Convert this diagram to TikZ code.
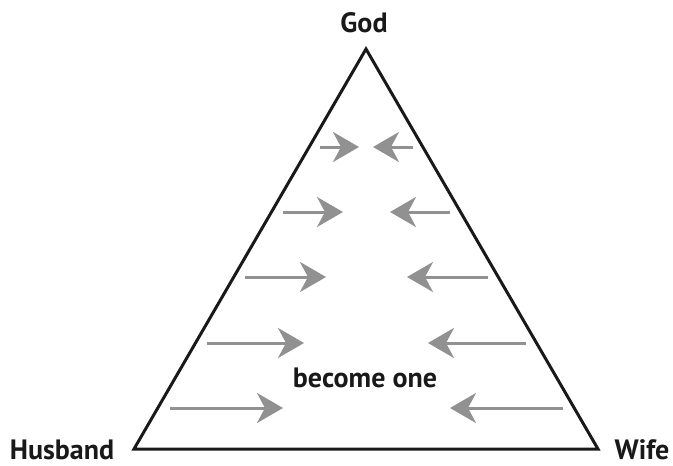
\documentclass[tikz,border=0pt]{standalone}
\usepackage{fontspec}
\setmainfont{PT Sans}
\usetikzlibrary{arrows.meta}

\tikzset{
  label text/.style={font=\fontsize{28}{32}\selectfont\bfseries, text=black!90, anchor=base, inner sep=0pt},
  pull/.style={-{Stealth[length=26pt, width=30pt, inset=8pt]}, line width=3pt, draw=black!43, fill=black!43}
}

\begin{document}
\begin{tikzpicture}[x=1pt, y=-1pt, line join=miter]
  \useasboundingbox (0,0) rectangle (673,466);

  % Triangle corners
  \coordinate (top) at (366,49);
  \coordinate (left) at (134,449);
  \coordinate (right) at (598,449);
  \draw[line width=3pt, black!90] (top) -- (left) -- (right) -- cycle;

  % Labels
  \node[label text] (god) at (364,32) {God};
  \node[label text] (husband) at (62,459) {Husband};
  \node[label text] (wife) at (642,459) {Wife};
  \node[label text] (one) at (365,387) {become one};

  % Arrows drawing the two together
  \foreach \i/\y/\la/\lb/\ra/\rb in {1/147/320/359/413/373, 2/212/283/343/450/390,
      3/277/245/326/488/407, 4/343/207/304/526/428, 5/408/170/283/563/450} {
    \coordinate (hs\i) at (\la,\y);
    \coordinate (he\i) at (\lb,\y);
    \coordinate (ws\i) at (\ra,\y);
    \coordinate (we\i) at (\rb,\y);
    \draw[pull] (hs\i) -- (he\i);
    \draw[pull] (ws\i) -- (we\i);
  }
\end{tikzpicture}
\end{document}
